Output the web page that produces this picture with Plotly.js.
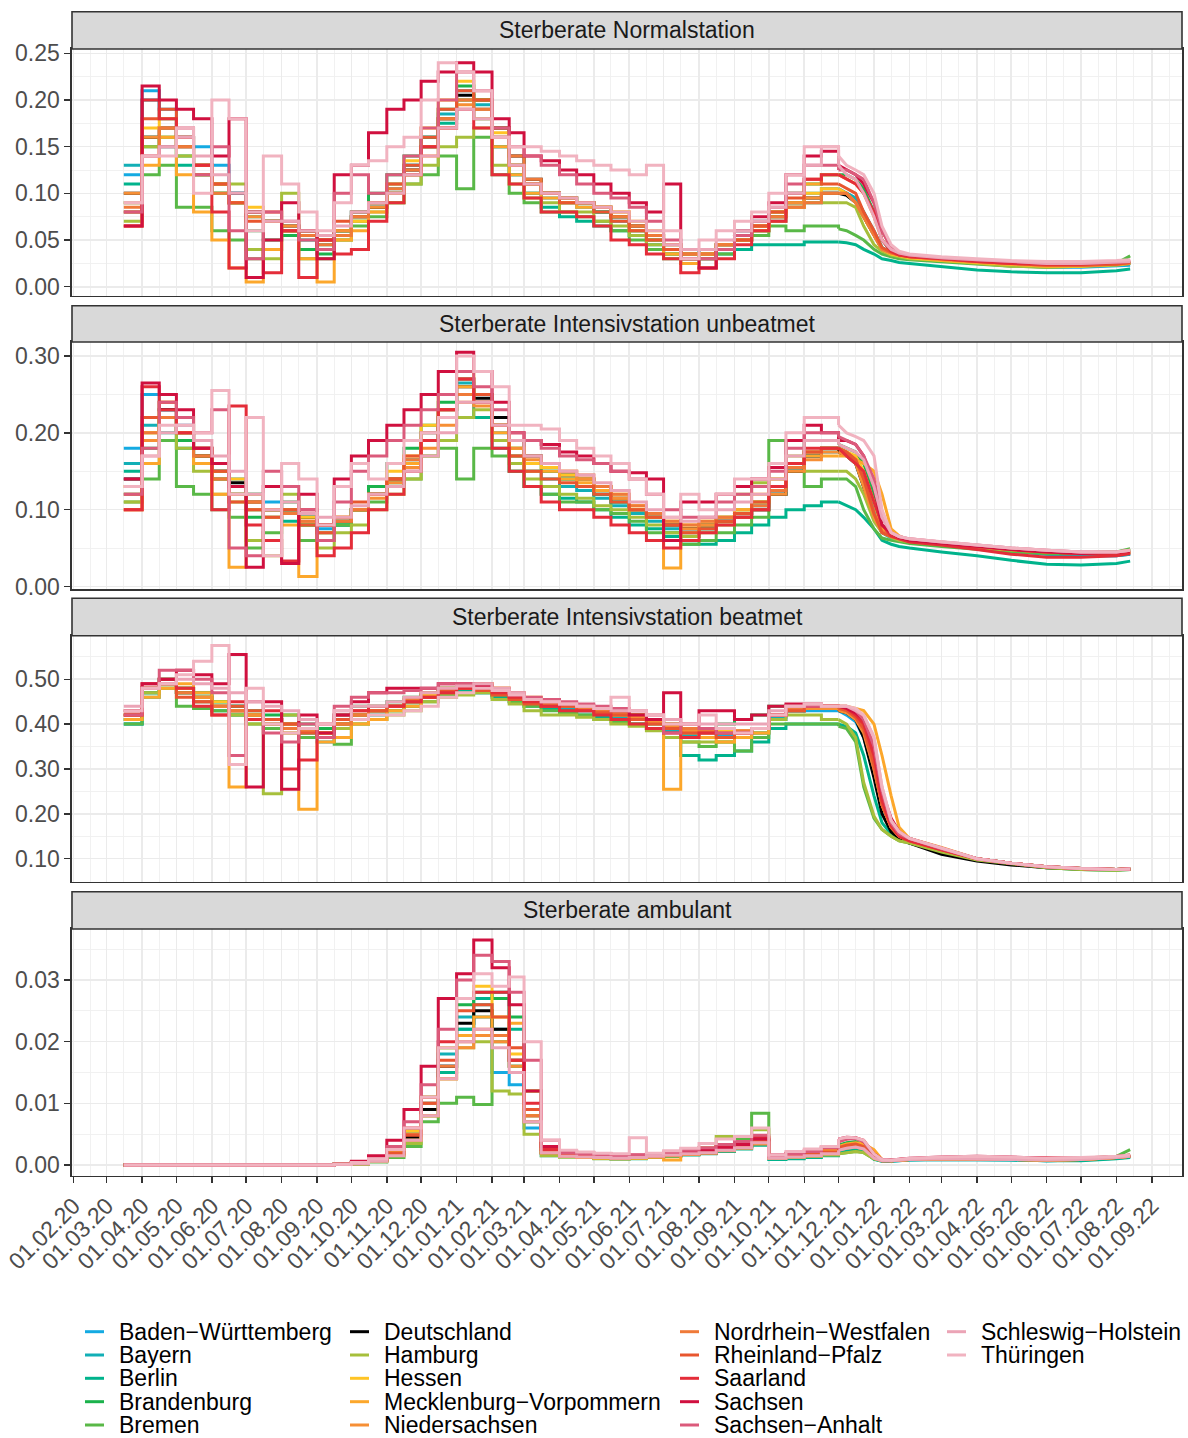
<!DOCTYPE html>
<html>
<head>
<meta charset="utf-8">
<script src="https://cdn.plot.ly/plotly-3.0.1.min.js"></script>
<style>html,body{margin:0;padding:0;background:#fff;}#chart{width:1188px;height:1438px;}</style>
</head>
<body>
<div id="chart"></div>
<script>
// ---------- DATA ----------
const dates = ['2020-03-16','2020-04-01','2020-04-16','2020-05-01','2020-05-16','2020-06-01','2020-06-16','2020-07-01','2020-07-16','2020-08-01','2020-08-16','2020-09-01','2020-09-16',
'2020-10-01','2020-10-16','2020-11-01','2020-11-16','2020-12-01','2020-12-16','2021-01-01','2021-01-16','2021-02-01','2021-02-16','2021-03-01','2021-03-16',
'2021-04-01','2021-04-16','2021-05-01','2021-05-16','2021-06-01','2021-06-16','2021-07-01','2021-07-16','2021-08-01','2021-08-16','2021-09-01','2021-09-16','2021-10-01','2021-10-16','2021-11-01','2021-11-16',
'2021-12-01','2021-12-08','2021-12-16','2021-12-23','2022-01-01','2022-01-08','2022-01-16','2022-01-23','2022-02-01','2022-03-01','2022-04-01','2022-05-01','2022-06-01','2022-07-01','2022-08-01','2022-08-13'];

const states = ['Baden\u2212Württemberg','Bayern','Berlin','Brandenburg','Bremen','Deutschland','Hamburg','Hessen','Mecklenburg\u2212Vorpommern','Niedersachsen','Nordrhein\u2212Westfalen','Rheinland\u2212Pfalz','Saarland','Sachsen','Sachsen\u2212Anhalt','Schleswig\u2212Holstein','Thüringen'];

const panelTitles = ['Sterberate Normalstation','Sterberate Intensivstation unbeatmet','Sterberate Intensivstation beatmet','Sterberate ambulant'];

const normalstation = [
[.12,.21,.19,.16,.15,.13,.10,.08,.07,.06,.06,.05,.06, .08,.09,.11,.13,.16,.18,.20,.19,.15,.12,.10,.095, .09,.09,.08,.07,.06,.05,.045,.04,.035,.04,.05,.06,.07,.085,.09,.10, .10,.10,.095,.08,.06,.042,.036,.033,.031,.028,.025,.023,.021,.021,.022,.023],
[.13,.20,.18,.16,.13,.11,.09,.08,.07,.06,.055,.05,.06, .075,.09,.105,.13,.16,.185,.21,.195,.16,.13,.11,.10, .095,.085,.08,.075,.065,.05,.04,.035,.04,.045,.06,.07,.08,.09,.10,.105, .105,.10,.095,.08,.058,.042,.036,.034,.032,.029,.026,.024,.022,.022,.024,.025],
[.11,.16,.15,.13,.12,.10,.09,.075,.07,.06,.05,.045,.055, .07,.085,.10,.12,.15,.175,.20,.18,.15,.12,.10,.085, .075,.07,.065,.06,.055,.045,.035,.03,.03,.035,.04,.045,.045,.045,.048,.048, .048,.047,.045,.04,.035,.03,.028,.026,.025,.022,.018,.016,.015,.015,.017,.019],
[.09,.15,.16,.14,.12,.10,.09,.06,.05,.055,.04,.035,.06, .08,.10,.12,.14,.16,.19,.215,.20,.17,.13,.11,.10, .09,.09,.08,.075,.06,.05,.035,.03,.035,.04,.05,.06,.08,.10,.11,.12, .12,.12,.115,.105,.08,.05,.038,.034,.032,.029,.026,.024,.022,.023,.025,.027],
[.08,.12,.13,.085,.085,.06,.05,.03,.04,.06,.03,.03,.05, .065,.075,.09,.11,.12,.14,.105,.16,.12,.10,.09,.08, .08,.075,.07,.06,.05,.04,.03,.025,.03,.035,.05,.055,.065,.06,.065,.065, .062,.06,.055,.05,.04,.035,.032,.03,.029,.027,.024,.022,.021,.022,.025,.033],
[.10,.16,.17,.15,.13,.11,.10,.08,.07,.065,.06,.05,.06, .075,.085,.10,.125,.15,.18,.205,.20,.17,.14,.115,.10, .095,.09,.085,.075,.065,.055,.04,.035,.035,.045,.055,.065,.075,.09,.095,.10, .10,.098,.09,.075,.055,.04,.036,.034,.033,.03,.027,.025,.023,.023,.024,.025],
[.07,.15,.16,.14,.12,.10,.11,.04,.03,.10,.06,.04,.05, .07,.08,.09,.11,.13,.15,.16,.17,.13,.11,.095,.09, .08,.08,.07,.065,.055,.045,.035,.03,.035,.04,.05,.06,.075,.085,.09,.09, .09,.09,.085,.065,.045,.038,.034,.032,.03,.028,.025,.022,.021,.022,.023,.025],
[.09,.17,.18,.16,.13,.11,.09,.085,.07,.06,.055,.05,.06, .07,.09,.11,.135,.17,.20,.22,.20,.165,.13,.11,.10, .095,.09,.085,.08,.07,.06,.045,.035,.035,.045,.055,.065,.08,.09,.10,.105, .105,.10,.09,.075,.055,.04,.035,.033,.031,.028,.026,.024,.022,.022,.024,.025],
[.065,.13,.16,.12,.08,.05,.02,.005,.04,.06,.03,.005,.05, .06,.08,.10,.12,.15,.18,.20,.18,.15,.12,.10,.095, .09,.085,.085,.08,.06,.05,.035,.025,.02,.04,.05,.06,.07,.085,.11,.12, .12,.115,.11,.10,.075,.05,.04,.035,.032,.029,.026,.024,.022,.023,.025,.026],
[.10,.16,.17,.15,.13,.11,.09,.075,.07,.065,.06,.05,.06, .075,.085,.10,.12,.14,.17,.195,.19,.16,.13,.11,.10, .09,.09,.085,.075,.065,.055,.04,.035,.035,.045,.055,.065,.08,.09,.095,.10, .10,.10,.09,.075,.055,.04,.036,.034,.032,.029,.027,.025,.023,.023,.024,.025],
[.085,.14,.17,.15,.12,.10,.09,.08,.07,.06,.055,.045,.055, .075,.09,.105,.125,.15,.18,.20,.19,.17,.14,.115,.10, .095,.09,.085,.075,.065,.055,.045,.035,.035,.045,.05,.065,.075,.085,.09,.10, .10,.10,.09,.075,.055,.04,.036,.034,.033,.03,.027,.025,.023,.023,.024,.026],
[.08,.18,.19,.16,.13,.11,.09,.07,.08,.06,.06,.05,.07, .08,.09,.11,.13,.16,.19,.21,.20,.16,.13,.11,.10, .09,.09,.08,.07,.06,.05,.04,.03,.03,.04,.05,.065,.08,.095,.115,.11, .11,.105,.10,.08,.06,.042,.037,.034,.032,.03,.027,.025,.023,.023,.024,.026],
[.065,.20,.18,.16,.13,.08,.02,.08,.015,.06,.01,.05,.035, .04,.07,.09,.12,.15,.17,.19,.17,.12,.11,.095,.08, .08,.075,.065,.05,.045,.035,.03,.015,.02,.03,.045,.06,.07,.10,.115,.12, .12,.115,.11,.10,.08,.05,.038,.034,.032,.03,.027,.025,.024,.024,.026,.027],
[.065,.215,.20,.19,.18,.14,.18,.01,.05,.09,.06,.03,.12, .13,.165,.19,.20,.22,.23,.24,.23,.18,.165,.14,.135, .125,.12,.11,.10,.09,.08,.11,.03,.02,.04,.06,.075,.09,.12,.14,.145, .13,.125,.12,.11,.09,.06,.042,.036,.034,.031,.029,.027,.026,.026,.027,.028],
[.08,.14,.15,.17,.12,.15,.06,.03,.08,.07,.05,.04,.10, .12,.10,.12,.14,.17,.20,.23,.21,.17,.15,.14,.13, .12,.11,.10,.095,.085,.07,.05,.03,.03,.04,.055,.07,.085,.11,.13,.13, .125,.125,.12,.115,.09,.06,.042,.036,.034,.031,.029,.027,.025,.025,.026,.027],
[.09,.14,.15,.16,.14,.12,.10,.08,.07,.07,.06,.055,.065, .08,.09,.10,.12,.14,.17,.19,.18,.16,.13,.11,.10, .095,.09,.085,.08,.07,.06,.045,.04,.04,.05,.06,.07,.085,.10,.13,.15, .13,.12,.115,.10,.075,.05,.04,.036,.034,.031,.029,.027,.025,.025,.026,.027],
[.09,.14,.14,.17,.10,.20,.18,.06,.14,.11,.08,.06,.09, .13,.135,.15,.16,.20,.24,.23,.21,.16,.15,.15,.145, .14,.135,.13,.125,.12,.13,.06,.03,.05,.06,.07,.08,.10,.12,.15,.15, .14,.13,.125,.12,.10,.065,.045,.038,.035,.032,.03,.028,.027,.027,.028,.029]
];

const itsUnbeatmet = [
[.18,.25,.23,.21,.18,.15,.14,.12,.11,.10,.09,.075,.08, .10,.12,.14,.16,.19,.22,.25,.24,.20,.17,.15,.15, .14,.13,.12,.11,.10,.09,.08,.075,.08,.085,.095,.105,.12,.15,.17,.175, .175,.17,.16,.13,.09,.07,.063,.06,.058,.054,.05,.046,.042,.04,.04,.042],
[.16,.21,.22,.20,.17,.15,.13,.12,.10,.10,.09,.08,.085, .10,.12,.14,.165,.20,.23,.265,.25,.21,.17,.15,.14, .13,.125,.115,.105,.095,.085,.075,.07,.075,.085,.095,.10,.12,.15,.175,.18, .18,.175,.165,.14,.10,.072,.065,.062,.06,.055,.05,.046,.042,.04,.04,.042],
[.15,.19,.20,.18,.16,.14,.12,.10,.09,.085,.08,.07,.08, .10,.12,.135,.155,.19,.22,.25,.22,.18,.15,.13,.12, .115,.11,.10,.09,.08,.075,.065,.055,.055,.06,.07,.08,.09,.10,.105,.11, .11,.105,.10,.09,.075,.06,.055,.052,.05,.045,.04,.034,.029,.028,.03,.033],
[.12,.18,.22,.19,.17,.14,.12,.09,.10,.11,.08,.06,.08, .10,.13,.16,.18,.21,.24,.27,.25,.21,.18,.16,.15, .14,.13,.12,.11,.10,.09,.07,.065,.075,.09,.10,.11,.13,.16,.19,.19, .185,.18,.175,.16,.12,.08,.066,.062,.06,.056,.052,.048,.045,.044,.045,.047],
[.11,.14,.19,.13,.12,.10,.09,.05,.07,.10,.06,.06,.08, .10,.11,.13,.14,.17,.18,.14,.18,.17,.15,.13,.12, .11,.11,.10,.095,.085,.07,.06,.055,.06,.07,.08,.09,.19,.15,.13,.14, .14,.14,.13,.10,.075,.063,.06,.058,.056,.052,.048,.045,.043,.043,.045,.049],
[.14,.19,.23,.20,.17,.15,.135,.11,.10,.10,.09,.08,.085, .10,.12,.14,.16,.19,.22,.26,.245,.22,.19,.17,.16, .145,.14,.13,.115,.10,.09,.08,.075,.08,.085,.09,.10,.12,.15,.17,.18, .175,.17,.16,.13,.09,.07,.065,.063,.06,.056,.052,.048,.045,.043,.043,.044],
[.11,.20,.22,.18,.15,.12,.11,.06,.04,.12,.08,.05,.07, .08,.10,.12,.14,.17,.19,.22,.23,.19,.16,.14,.13, .12,.115,.105,.10,.09,.08,.07,.065,.07,.08,.12,.135,.14,.17,.15,.15, .15,.15,.14,.12,.085,.07,.064,.06,.058,.054,.05,.047,.045,.044,.045,.047],
[.13,.20,.24,.22,.18,.15,.14,.12,.10,.10,.09,.08,.09, .10,.12,.15,.17,.21,.25,.28,.25,.21,.18,.16,.155, .145,.14,.13,.12,.105,.095,.085,.08,.085,.09,.10,.11,.13,.16,.175,.18, .18,.175,.17,.15,.11,.075,.066,.062,.06,.056,.052,.048,.045,.044,.044,.045],
[.10,.16,.22,.20,.16,.12,.025,.10,.09,.08,.013,.07,.09, .10,.12,.14,.16,.19,.23,.26,.24,.20,.17,.15,.15, .14,.135,.125,.115,.10,.09,.024,.07,.08,.09,.10,.12,.14,.16,.17,.17, .17,.17,.165,.16,.15,.12,.075,.066,.06,.056,.052,.048,.045,.044,.044,.045],
[.13,.19,.22,.20,.17,.14,.12,.11,.10,.095,.085,.08,.085, .10,.115,.135,.155,.18,.21,.24,.235,.21,.18,.165,.16, .15,.14,.13,.115,.10,.09,.08,.075,.08,.085,.09,.10,.12,.15,.165,.175, .175,.17,.16,.13,.09,.07,.065,.062,.06,.056,.052,.048,.045,.043,.043,.044],
[.12,.20,.22,.20,.17,.14,.12,.11,.10,.095,.085,.08,.085, .10,.12,.14,.165,.19,.22,.25,.24,.21,.19,.17,.16, .15,.145,.13,.12,.105,.095,.085,.08,.085,.09,.095,.105,.125,.155,.175,.18, .18,.175,.165,.14,.095,.072,.066,.063,.06,.056,.052,.048,.045,.043,.043,.044],
[.10,.22,.24,.22,.18,.15,.11,.10,.09,.10,.08,.07,.09, .11,.12,.14,.17,.20,.23,.27,.25,.21,.17,.15,.14, .135,.13,.12,.11,.10,.09,.08,.07,.075,.085,.095,.11,.13,.16,.175,.18, .18,.175,.165,.14,.095,.07,.065,.062,.06,.056,.052,.048,.045,.043,.043,.045],
[.10,.26,.23,.20,.18,.10,.235,.08,.06,.033,.10,.04,.05, .07,.10,.12,.15,.19,.23,.27,.24,.18,.15,.13,.11, .10,.10,.09,.08,.07,.06,.05,.06,.07,.08,.09,.10,.13,.16,.18,.18, .18,.17,.16,.15,.11,.08,.066,.062,.058,.054,.048,.042,.038,.038,.04,.043],
[.14,.265,.25,.23,.18,.16,.13,.025,.13,.03,.12,.08,.14, .17,.19,.21,.23,.25,.28,.305,.28,.24,.20,.19,.185, .175,.17,.16,.15,.148,.14,.06,.11,.11,.12,.13,.14,.155,.19,.21,.20, .19,.19,.185,.17,.13,.08,.07,.064,.06,.056,.052,.048,.045,.043,.044,.046],
[.12,.18,.24,.22,.20,.23,.05,.04,.15,.13,.10,.06,.11, .15,.17,.19,.21,.23,.25,.28,.26,.23,.20,.19,.18, .17,.165,.16,.15,.14,.12,.10,.09,.09,.11,.12,.13,.15,.18,.20,.20, .195,.19,.185,.17,.14,.09,.07,.065,.062,.058,.054,.05,.047,.045,.045,.047],
[.13,.17,.20,.21,.19,.17,.15,.12,.10,.11,.095,.09,.09, .105,.12,.13,.15,.17,.20,.24,.24,.21,.19,.17,.16, .15,.145,.135,.125,.11,.10,.09,.085,.09,.10,.11,.12,.14,.17,.19,.19, .185,.18,.175,.165,.13,.09,.07,.065,.062,.058,.054,.05,.047,.045,.045,.047],
[.13,.17,.21,.21,.20,.255,.12,.22,.04,.16,.14,.08,.13, .16,.14,.16,.19,.20,.22,.30,.28,.26,.21,.21,.205, .19,.18,.17,.16,.14,.12,.09,.12,.10,.12,.14,.14,.16,.20,.22,.22, .21,.20,.195,.19,.17,.10,.07,.065,.062,.058,.054,.05,.047,.045,.045,.047]
];

const itsBeatmet = [
[.40,.47,.49,.48,.47,.45,.44,.41,.40,.39,.38,.36,.40, .42,.43,.44,.45,.46,.47,.475,.47,.465,.455,.445,.44, .44,.43,.425,.42,.41,.40,.39,.38,.38,.375,.37,.38,.41,.43,.43,.43, .43,.42,.405,.37,.29,.21,.165,.15,.14,.12,.10,.09,.082,.078,.076,.077],
[.41,.47,.49,.48,.46,.45,.44,.42,.41,.40,.385,.37,.40, .42,.43,.44,.45,.465,.48,.48,.475,.465,.455,.445,.44, .435,.43,.425,.415,.41,.40,.385,.375,.37,.37,.37,.38,.415,.43,.435,.435, .43,.425,.41,.38,.30,.22,.17,.15,.14,.12,.10,.09,.082,.078,.076,.077],
[.40,.46,.48,.47,.45,.43,.42,.41,.40,.39,.38,.37,.39, .41,.42,.43,.44,.46,.47,.475,.47,.46,.45,.44,.435, .43,.42,.415,.41,.40,.39,.37,.33,.32,.33,.34,.36,.39,.40,.40,.40, .40,.395,.38,.33,.24,.18,.155,.145,.135,.115,.097,.088,.08,.076,.074,.076],
[.41,.48,.50,.48,.47,.45,.44,.43,.42,.42,.40,.39,.42, .44,.44,.45,.46,.47,.48,.485,.48,.47,.46,.45,.445, .44,.44,.43,.42,.42,.41,.40,.39,.39,.40,.41,.42,.44,.44,.44,.435, .435,.43,.42,.40,.33,.24,.18,.155,.145,.122,.10,.09,.082,.078,.076,.077],
[.40,.47,.50,.44,.435,.43,.42,.40,.39,.38,.37,.38,.355, .40,.41,.43,.44,.45,.465,.47,.475,.465,.45,.44,.43, .425,.42,.41,.405,.40,.39,.37,.36,.35,.36,.34,.37,.40,.40,.40,.40, .395,.39,.36,.26,.19,.165,.15,.14,.135,.115,.097,.088,.08,.076,.074,.078],
[.42,.48,.49,.47,.46,.44,.43,.42,.41,.40,.385,.38,.40, .42,.43,.44,.45,.465,.475,.485,.48,.47,.46,.45,.44, .44,.435,.43,.425,.42,.41,.40,.39,.385,.38,.38,.39,.42,.43,.435,.435, .43,.425,.41,.37,.28,.20,.16,.145,.135,.11,.095,.086,.08,.077,.076,.077],
[.41,.47,.48,.47,.46,.44,.42,.40,.245,.42,.38,.37,.39, .40,.41,.42,.43,.45,.46,.465,.47,.455,.445,.43,.42, .42,.415,.41,.40,.395,.385,.37,.36,.36,.36,.37,.38,.41,.42,.42,.41, .41,.40,.37,.27,.195,.165,.15,.14,.135,.115,.097,.088,.08,.076,.074,.076],
[.42,.48,.49,.48,.46,.45,.43,.42,.41,.40,.39,.38,.40, .42,.43,.44,.45,.465,.48,.485,.49,.48,.465,.455,.445, .44,.435,.43,.425,.42,.41,.40,.39,.39,.385,.385,.39,.42,.435,.44,.44, .435,.43,.415,.39,.31,.22,.17,.15,.14,.12,.10,.09,.082,.078,.076,.077],
[.41,.46,.48,.49,.47,.44,.26,.42,.40,.38,.21,.36,.37, .40,.41,.43,.44,.46,.47,.48,.49,.48,.47,.46,.45, .445,.44,.43,.42,.415,.40,.255,.38,.37,.36,.37,.38,.42,.44,.44,.44, .44,.44,.435,.43,.40,.33,.24,.17,.145,.125,.10,.09,.082,.078,.076,.077],
[.42,.48,.49,.48,.46,.44,.43,.42,.41,.40,.39,.38,.40, .42,.43,.44,.45,.46,.47,.48,.48,.47,.46,.45,.44, .44,.435,.43,.42,.415,.405,.395,.385,.38,.38,.38,.39,.42,.43,.435,.435, .43,.425,.41,.38,.30,.22,.17,.15,.14,.12,.10,.09,.082,.078,.076,.077],
[.42,.48,.49,.47,.45,.44,.43,.41,.40,.39,.385,.38,.40, .42,.43,.44,.455,.47,.48,.485,.48,.47,.46,.45,.445, .44,.435,.43,.425,.42,.41,.40,.39,.385,.38,.385,.39,.42,.435,.44,.44, .435,.43,.415,.385,.30,.22,.17,.15,.14,.12,.10,.09,.082,.078,.076,.077],
[.43,.48,.49,.46,.45,.42,.44,.43,.41,.40,.38,.37,.41, .43,.43,.44,.45,.46,.475,.48,.475,.465,.455,.445,.44, .44,.43,.425,.42,.41,.40,.39,.38,.38,.37,.38,.39,.42,.43,.44,.44, .435,.43,.415,.39,.31,.22,.17,.15,.14,.12,.10,.09,.082,.078,.076,.077],
[.42,.49,.50,.48,.44,.42,.45,.41,.43,.30,.32,.40,.42, .43,.44,.44,.45,.46,.47,.48,.48,.47,.46,.45,.44, .43,.43,.42,.41,.40,.39,.38,.37,.38,.39,.38,.39,.42,.44,.44,.44, .44,.435,.42,.40,.33,.23,.175,.15,.14,.12,.10,.09,.082,.078,.076,.077],
[.43,.49,.50,.52,.51,.49,.555,.26,.45,.255,.42,.38,.42, .45,.47,.48,.48,.48,.49,.49,.485,.475,.465,.455,.45, .445,.44,.435,.43,.42,.41,.47,.40,.43,.43,.41,.42,.44,.445,.445,.44, .44,.435,.425,.41,.35,.25,.19,.16,.145,.123,.10,.09,.082,.078,.076,.077],
[.42,.48,.52,.52,.50,.47,.33,.45,.38,.36,.40,.37,.44, .46,.47,.47,.475,.48,.49,.49,.49,.48,.47,.46,.455, .45,.445,.44,.435,.43,.42,.38,.40,.39,.38,.38,.39,.42,.44,.44,.44, .44,.44,.43,.41,.35,.25,.18,.155,.145,.122,.10,.09,.082,.078,.076,.077],
[.44,.48,.49,.50,.49,.48,.47,.45,.44,.43,.41,.40,.43, .44,.44,.45,.46,.47,.48,.485,.49,.48,.47,.455,.45, .445,.44,.435,.43,.43,.42,.41,.40,.40,.40,.40,.40,.43,.44,.445,.44, .44,.44,.43,.42,.37,.26,.185,.16,.145,.123,.10,.09,.082,.078,.076,.077],
[.43,.48,.49,.51,.54,.575,.31,.48,.40,.38,.39,.40,.43, .41,.42,.42,.43,.44,.46,.47,.48,.475,.465,.455,.45, .445,.44,.435,.46,.43,.42,.40,.40,.42,.39,.38,.39,.42,.44,.445,.44, .44,.44,.435,.42,.37,.26,.185,.16,.145,.123,.10,.09,.082,.078,.076,.077]
];

const ambulant = [
[0,0,0,0,0,0,0,0,0,0,0,0,.0001, .0002,.0007,.0018,.0045,.009,.016,.022,.024,.015,.013,.006,.0015, .0014,.0012,.0011,.001,.0011,.0013,.0015,.0017,.0019,.0024,.0028,.0035,.001,.0012,.0014,.0018, .0024,.0028,.003,.0026,.001,.0006,.0006,.0007,.0008,.0009,.0009,.0008,.0007,.0008,.0011,.0013],
[0,0,0,0,0,0,0,0,0,0,0,0,.0001, .0003,.0008,.002,.005,.010,.018,.024,.026,.022,.016,.007,.002, .0015,.0013,.0012,.0011,.0012,.0014,.0016,.0018,.002,.0026,.003,.0038,.0011,.0013,.0016,.002, .0027,.0031,.0033,.0029,.0011,.0007,.0007,.0008,.0009,.001,.001,.0009,.0007,.0008,.0012,.0014],
[0,0,0,0,0,0,0,0,0,0,0,0,.0001, .0002,.0007,.0017,.004,.008,.015,.022,.027,.028,.022,.009,.002, .0016,.0013,.0012,.001,.001,.0012,.0014,.0016,.0018,.0022,.0026,.0032,.0009,.001,.0012,.0015, .002,.0024,.0026,.0022,.0009,.0006,.0006,.0007,.0008,.0009,.0009,.0008,.0007,.0007,.001,.0012],
[0,0,0,0,0,0,0,0,0,0,0,0,.0001, .0003,.0009,.0022,.0055,.011,.019,.026,.028,.027,.024,.012,.003, .0014,.0012,.0011,.001,.0011,.0013,.0016,.0018,.0021,.0027,.0032,.004,.0013,.0016,.002,.0026, .0032,.0036,.0038,.0032,.0013,.0008,.0007,.0008,.0009,.001,.001,.0009,.0008,.0009,.0012,.0015],
[0,0,0,0,0,0,0,0,0,0,0,0,.0001, .0001,.0005,.0012,.003,.007,.010,.011,.0098,.020,.016,.007,.002, .0013,.0012,.001,.001,.0011,.0012,.0014,.0017,.002,.003,.0042,.0084,.0011,.0012,.0014,.0017, .0018,.002,.0022,.002,.001,.0007,.0007,.0008,.0009,.001,.0011,.001,.0009,.001,.0014,.0025],
[0,0,0,0,0,0,0,0,0,0,0,0,.0001, .0003,.0008,.0018,.0045,.009,.016,.023,.025,.022,.017,.008,.002, .0015,.0013,.0012,.0011,.0012,.0014,.0016,.0018,.002,.0025,.003,.004,.0012,.0014,.0016,.002, .0026,.003,.0032,.0028,.0012,.0007,.0007,.0008,.0009,.001,.001,.0009,.0008,.0009,.0012,.0014],
[0,0,0,0,0,0,0,0,0,0,0,0,.0001, .0002,.0006,.0015,.0035,.008,.014,.019,.020,.012,.0115,.005,.0015, .0013,.0012,.0011,.001,.0011,.0013,.0016,.002,.0028,.0046,.0038,.0057,.0012,.0013,.0014,.0016, .0018,.002,.0022,.002,.001,.0007,.0007,.0008,.0009,.001,.001,.0009,.0008,.0009,.0013,.0016],
[0,0,0,0,0,0,0,0,0,0,0,0,.0001, .0003,.0009,.0022,.0055,.011,.019,.027,.029,.024,.018,.008,.002, .0015,.0014,.0012,.0011,.0012,.0014,.0017,.0019,.0022,.0026,.003,.0038,.0012,.0014,.0016,.002, .0027,.003,.0033,.0036,.0014,.0008,.0007,.0008,.0009,.001,.001,.0009,.0008,.0009,.0012,.0014],
[0,0,0,0,0,0,0,0,0,0,0,0,.0001, .0002,.0007,.0016,.004,.008,.014,.021,.024,.021,.023,.012,.003, .0014,.0012,.0011,.001,.0011,.0013,.0008,.0022,.0025,.003,.0034,.0045,.0013,.0015,.0018,.0024, .003,.0034,.0036,.0034,.0025,.0009,.0007,.0008,.0009,.001,.001,.0009,.0008,.0009,.0012,.0014],
[0,0,0,0,0,0,0,0,0,0,0,0,.0001, .0002,.0007,.0017,.004,.008,.014,.019,.021,.020,.016,.007,.002, .0014,.0013,.0012,.0011,.0012,.0013,.0015,.0017,.0019,.0023,.0027,.0034,.0011,.0013,.0015,.0018, .0024,.0027,.0029,.0026,.0011,.0007,.0007,.0008,.0009,.001,.001,.0009,.0008,.0009,.0012,.0014],
[0,0,0,0,0,0,0,0,0,0,0,0,.0001, .0003,.0008,.002,.005,.010,.016,.020,.022,.021,.017,.008,.002, .0015,.0014,.0012,.0011,.0012,.0014,.0016,.0018,.002,.0025,.003,.0037,.0012,.0014,.0016,.0019, .0025,.0029,.0031,.0028,.0012,.0007,.0007,.0008,.0009,.001,.001,.0009,.0008,.0009,.0012,.0014],
[0,0,0,0,0,0,0,0,0,0,0,0,.0001, .0003,.0008,.0019,.0048,.010,.017,.025,.026,.024,.019,.009,.0025, .0017,.0015,.0013,.0012,.0013,.0015,.0017,.0019,.0022,.0028,.0033,.0041,.0013,.0015,.0017,.0021, .0028,.0032,.0034,.003,.0012,.0008,.0008,.0009,.001,.0011,.0011,.001,.0009,.001,.0013,.0015],
[0,0,0,0,0,0,0,0,0,0,0,0,.0001, .0004,.001,.0025,.006,.011,.020,.027,.028,.028,.017,.010,.0025, .002,.0017,.0015,.0013,.0014,.0016,.0018,.0022,.0026,.003,.0036,.0045,.0015,.0018,.0022,.0028, .0038,.0042,.0044,.004,.0018,.0009,.0008,.0009,.001,.0012,.0013,.0012,.0011,.0011,.0014,.0016],
[0,0,0,0,0,0,0,0,0,0,0,0,.0001, .0006,.0015,.004,.009,.016,.027,.031,.0365,.032,.026,.012,.003, .0022,.002,.0018,.0016,.0016,.0017,.0019,.0021,.0024,.0028,.0033,.0042,.0016,.0019,.0023,.003, .0042,.0045,.0044,.0038,.0018,.0009,.0008,.0009,.0011,.0013,.0014,.0013,.0011,.0011,.0013,.0015],
[0,0,0,0,0,0,0,0,0,0,0,0,.0001, .0004,.001,.003,.007,.013,.022,.030,.034,.033,.028,.017,.004, .002,.0018,.0016,.0015,.0016,.0018,.0021,.0024,.0028,.0033,.0038,.0048,.0015,.0018,.0022,.0028, .0038,.0042,.0043,.0038,.0017,.0009,.0008,.0009,.001,.0012,.0013,.0012,.001,.0011,.0013,.0015],
[0,0,0,0,0,0,0,0,0,0,0,0,.0001, .0002,.0006,.0015,.004,.008,.014,.020,.022,.019,.015,.007,.002, .0014,.0013,.0012,.0011,.0012,.0014,.0016,.0018,.002,.0024,.0028,.0036,.0011,.0013,.0015,.0018, .0024,.0027,.0029,.0026,.0011,.0007,.0007,.0008,.0009,.001,.001,.0009,.0008,.0009,.0012,.0014],
[0,0,0,0,0,0,0,0,0,0,0,0,.0001, .0004,.001,.0025,.006,.011,.019,.027,.031,.029,.0305,.020,.004, .0024,.0021,.0019,.0018,.0044,.0019,.0023,.0027,.0035,.0042,.0046,.006,.0016,.0022,.0026,.003, .0042,.0045,.0044,.004,.0018,.0009,.0008,.0009,.0011,.0013,.0014,.0013,.0011,.0012,.0014,.0016]
];

// ---------- STYLE ----------
const colors = ['#14AAE2','#12AFB6','#00B38C','#1BB24C','#59B847','#000000','#A6BF3B','#FFC425','#FCA72B','#F68F35','#EF7A39','#E8562F','#E42D39','#D0103F','#DB5A7B','#EBA4B6','#F1B3C0'];
const FONT = '"Liberation Sans", Arial, Helvetica, sans-serif';
const W = 1188, H = 1438;
const px = v => v / W, py = v => 1 - v / H;

const panelData = [normalstation, itsUnbeatmet, itsBeatmet, ambulant];
const plotTop = [49, 342, 635.7, 929];
const plotBot = [295.7, 589.3, 881.7, 1175.7];
const stripTop = [11.7, 305.7, 598.3, 891.7];
const yRanges = [[-0.0096, 0.2546], [-0.0037, 0.3183], [0.0487, 0.597], [-0.00174, 0.03827]];
const yDtick = [0.05, 0.1, 0.1, 0.01];
const xLeft = 72, xRight = 1182;
const xRange = ['2020-01-30 17:00', '2022-09-27 08:00'];
const SPLIT = 41; // weekly-step part drawn as steps, the smooth tail from Dec 2021 drawn linearly

panelData.forEach((pd, p) => pd.forEach((row, s) => {
  if (row.length !== dates.length) console.error('length mismatch panel ' + p + ' state ' + s + ': ' + row.length);
}));

const traces = [];
panelData.forEach((pd, p) => {
  const suf = p === 0 ? '' : String(p + 1);
  pd.forEach((row, s) => {
    const base = { type: 'scatter', mode: 'lines', name: states[s], xaxis: 'x' + suf, yaxis: 'y' + suf,
      showlegend: false, hoverinfo: 'skip' };
    traces.push(Object.assign({}, base, { x: dates.slice(0, SPLIT + 1), y: row.slice(0, SPLIT + 1),
      line: { color: colors[s], width: 3, shape: 'hv' } }));
    traces.push(Object.assign({}, base, { x: dates.slice(SPLIT), y: row.slice(SPLIT),
      line: { color: colors[s], width: 3, shape: 'linear' } }));
  });
});

const layout = {
  width: W, height: H, autosize: false,
  margin: { l: 0, r: 0, t: 0, b: 0 },
  paper_bgcolor: '#FFFFFF', plot_bgcolor: '#FFFFFF',
  font: { family: FONT, size: 23, color: '#4D4D4D' },
  showlegend: false, shapes: [], annotations: []
};

for (let p = 0; p < 4; p++) {
  const suf = p === 0 ? '' : String(p + 1);
  const isBottom = p === 3;
  layout['xaxis' + suf] = {
    type: 'date', range: xRange, domain: [px(xLeft), px(xRight)], anchor: 'y' + suf,
    tickformat: '%d.%m.%y', dtick: 'M1', tick0: '2020-02-01',
    showticklabels: isBottom, ticks: isBottom ? 'outside' : '', ticklen: 6, tickwidth: 1.4, tickcolor: '#333333',
    tickangle: -45, tickfont: { family: FONT, size: 23, color: '#4D4D4D' },
    showgrid: true, gridcolor: '#EBEBEB', gridwidth: 1.6,
    minor: { dtick: 'M1', tick0: '2020-01-16', showgrid: true, gridcolor: '#EFEFEF', gridwidth: 0.9 },
    zeroline: false, showline: true, mirror: true, linecolor: '#333333', linewidth: 1.6,
    fixedrange: true
  };
  layout['yaxis' + suf] = {
    range: yRanges[p], domain: [py(plotBot[p]), py(plotTop[p])], anchor: 'x' + suf,
    dtick: yDtick[p], tick0: 0, tickformat: '.2f',
    ticks: 'outside', ticklen: 6, tickwidth: 1.4, tickcolor: '#333333',
    tickfont: { family: FONT, size: 23, color: '#4D4D4D' },
    showgrid: true, gridcolor: '#EBEBEB', gridwidth: 1.6,
    minor: { dtick: yDtick[p] / 2, tick0: 0, showgrid: true, gridcolor: '#EFEFEF', gridwidth: 0.9 },
    zeroline: false, showline: true, mirror: true, linecolor: '#333333', linewidth: 1.6,
    fixedrange: true
  };
  // facet strip
  layout.shapes.push({
    type: 'rect', xref: 'paper', yref: 'paper', layer: 'above',
    x0: px(xLeft), x1: px(xRight), y0: py(plotTop[p]), y1: py(stripTop[p]),
    fillcolor: '#D9D9D9', line: { color: '#333333', width: 1.6 }
  });
  layout.annotations.push({
    xref: 'paper', yref: 'paper', x: px((xLeft + xRight) / 2), y: py((stripTop[p] + plotTop[p]) / 2),
    xanchor: 'center', yanchor: 'middle', showarrow: false, text: panelTitles[p],
    font: { family: FONT, size: 23, color: '#1A1A1A' }
  });
}

// legend (4 columns, filled column-wise)
const legKeyX = [85, 350, 680, 947];
const legTextX = [117, 382, 712, 979];
const legRowY = [1331.7, 1355, 1378.3, 1401.7, 1425];
states.forEach((name, s) => {
  const c = Math.floor(s / 5), r = s % 5;
  layout.shapes.push({
    type: 'line', xref: 'paper', yref: 'paper',
    x0: px(legKeyX[c]), x1: px(legKeyX[c] + 19), y0: py(legRowY[r]), y1: py(legRowY[r]),
    line: { color: colors[s], width: 3 }
  });
  layout.annotations.push({
    xref: 'paper', yref: 'paper', x: px(legTextX[c]), y: py(legRowY[r]),
    xanchor: 'left', yanchor: 'middle', showarrow: false, text: name,
    font: { family: FONT, size: 23, color: '#000000' }
  });
});

Plotly.newPlot('chart', traces, layout, { displayModeBar: false, staticPlot: true });
</script>
</body>
</html>
